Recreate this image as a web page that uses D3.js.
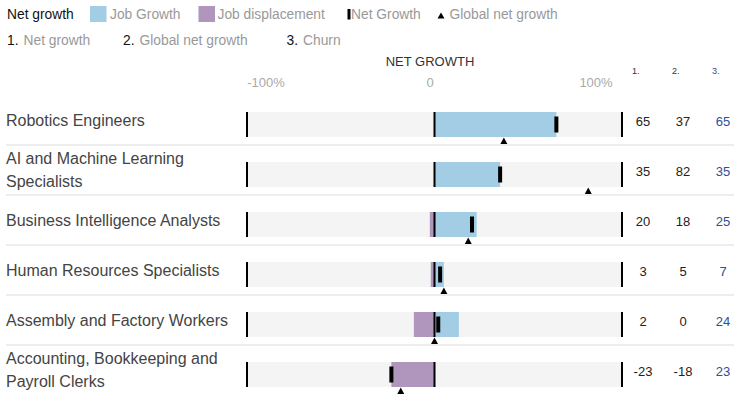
<!DOCTYPE html>
<html>
<head>
<meta charset="utf-8">
<script src="https://cdn.jsdelivr.net/npm/d3@7"></script>
<style>
  html, body { margin: 0; padding: 0; background: #fff; }
  svg { display: block; font-family: "Liberation Sans", Arial, Helvetica, sans-serif; }
</style>
</head>
<body>
<svg id="chart" width="734" height="394"></svg>
<script>
// Occupations (row labels, split over lines where they wrap)
const occupations = [
  ["Robotics Engineers"],
  ["AI and Machine Learning", "Specialists"],
  ["Business Intelligence Analysts"],
  ["Human Resources Specialists"],
  ["Assembly and Factory Workers"],
  ["Accounting, Bookkeeping and", "Payroll Clerks"]
];
// Percent values per occupation
const jobGrowth       = [65, 35, 22.5, 5, 13, 0];
const jobDisplacement = [0, 0, -2.5, -2, -11, -23];
const netGrowth       = [65, 35, 20, 3, 2, -23];
const globalNetGrowth = [37, 82, 18, 5, 0, -18];
const churn           = [65, 35, 25, 7, 24, 23];
const axisTicks       = [-100, 0, 100];
const axisTickLabels  = ["-100%", "0", "100%"];

const COL_BLUE = "#a2cde5";
const COL_PURPLE = "#b095bd";
const COL_TRACK = "#f4f4f4";
const COL_GREY = "#999";
const COL_CHURN = "#2d4e9c";

const svg = d3.select("#chart");
const keys = occupations.map((d, i) => i);

const x = d3.scaleLinear().domain([-100, 100]).range([247, 622]);
const y = d3.scaleBand().domain(keys).range([112, 387]).paddingInner(0.5);
const bh = y.bandwidth();

// ---- legend ----
const legend = svg.append("g").attr("font-size", 13.8);
legend.append("text").attr("x", 7).attr("y", 19).attr("fill", "#111").text("Net growth");
legend.append("rect").attr("x", 90).attr("y", 6).attr("width", 16.5).attr("height", 16).attr("fill", COL_BLUE);
legend.append("text").attr("x", 110).attr("y", 19).attr("fill", COL_GREY).text("Job Growth");
legend.append("rect").attr("x", 198.5).attr("y", 6).attr("width", 16.5).attr("height", 16).attr("fill", COL_PURPLE);
legend.append("text").attr("x", 217.5).attr("y", 19).attr("fill", COL_GREY).text("Job displacement");
legend.append("rect").attr("x", 347.5).attr("y", 9).attr("width", 3).attr("height", 10.5).attr("fill", "#000");
legend.append("text").attr("x", 351).attr("y", 19).attr("fill", COL_GREY).text("Net Growth");
legend.append("path").attr("d", "M441,12.5L444.5,18.5L437.5,18.5Z").attr("fill", "#000");
legend.append("text").attr("x", 449.5).attr("y", 19).attr("fill", COL_GREY).text("Global net growth");

const key2 = [
  { n: "1.", t: "Net growth", x: 7 },
  { n: "2.", t: "Global net growth", x: 123 },
  { n: "3.", t: "Churn", x: 286.5 }
];
key2.forEach(k => {
  legend.append("text").attr("x", k.x).attr("y", 45).attr("fill", "#111").text(k.n);
  legend.append("text").attr("x", k.x + 16.5).attr("y", 45).attr("fill", COL_GREY).text(k.t);
});

// ---- axis header ----
svg.append("text").attr("x", 430).attr("y", 66).attr("text-anchor", "middle")
  .attr("font-size", 13).attr("fill", "#333").text("NET GROWTH");

const tickPos = [266, 430, 596];
svg.append("g").selectAll("text").data(axisTicks).join("text")
  .attr("x", (d, i) => tickPos[i])
  .attr("y", 87)
  .attr("text-anchor", "middle")
  .attr("font-size", 13)
  .attr("fill", "#aaa")
  .text((d, i) => axisTickLabels[i]);

// column headers
const colX = [643, 683, 723];
const colHead = ["1.", "2.", "3."];
svg.append("g").selectAll("text").data(colHead).join("text")
  .attr("x", (d, i) => colX[i] - 11)
  .attr("y", 74)
  .attr("font-size", 9)
  .attr("fill", (d, i) => i === 2 ? COL_CHURN : "#333")
  .text(d => d);

// ---- rows ----
const rows = svg.append("g");

// separators
rows.selectAll("rect.sep").data(keys.slice(0, -1)).join("rect")
  .attr("class", "sep")
  .attr("x", 6).attr("width", 728)
  .attr("y", d => y(d) + bh + 7).attr("height", 2)
  .attr("fill", "#eeeeee");

// track
rows.selectAll("rect.track").data(keys).join("rect")
  .attr("class", "track")
  .attr("x", x(-100)).attr("width", x(100) - x(-100))
  .attr("y", d => y(d)).attr("height", bh)
  .attr("fill", COL_TRACK);

// job growth
rows.selectAll("rect.grow").data(keys).join("rect")
  .attr("class", "grow")
  .attr("x", x(0)).attr("width", d => x(jobGrowth[d]) - x(0))
  .attr("y", d => y(d)).attr("height", bh)
  .attr("fill", COL_BLUE);

// job displacement
rows.selectAll("rect.disp").data(keys).join("rect")
  .attr("class", "disp")
  .attr("x", d => x(jobDisplacement[d])).attr("width", d => x(0) - x(jobDisplacement[d]))
  .attr("y", d => y(d)).attr("height", bh)
  .attr("fill", COL_PURPLE);

// reference lines at -100, 0, 100
keys.forEach(k => {
  rows.selectAll(null).data(axisTicks).join("rect")
    .attr("x", d => x(d) - 1).attr("width", 2)
    .attr("y", y(k)).attr("height", bh)
    .attr("fill", "#000");
});

// net growth marker
rows.selectAll("rect.net").data(keys).join("rect")
  .attr("class", "net")
  .attr("x", d => x(netGrowth[d]) - 2).attr("width", 4)
  .attr("y", d => y(d) + bh / 2 - 8).attr("height", 16)
  .attr("fill", "#000");

// global net growth triangle
rows.selectAll("path.glob").data(keys).join("path")
  .attr("class", "glob")
  .attr("d", d => {
    const cx = x(globalNetGrowth[d]);
    const top = y(d) + bh + 0.5;
    return `M${cx},${top}L${cx + 3.5},${top + 6.5}L${cx - 3.5},${top + 6.5}Z`;
  })
  .attr("fill", "#000");

// row labels
const labels = rows.selectAll("text.lab").data(keys).join("text")
  .attr("class", "lab")
  .attr("font-size", 16)
  .attr("fill", "#444");
labels.each(function(d) {
  const lines = occupations[d];
  const c = y(d) + bh / 2;
  const t = d3.select(this);
  if (lines.length === 1) {
    t.append("tspan").attr("x", 6).attr("y", c + 1.5).text(lines[0]);
  } else {
    t.append("tspan").attr("x", 6).attr("y", c - 10.5).text(lines[0]);
    t.append("tspan").attr("x", 6).attr("y", c + 12.5).text(lines[1]);
  }
});

// value columns
const cols = [netGrowth, globalNetGrowth, churn];
cols.forEach((arr, ci) => {
  rows.selectAll(null).data(keys).join("text")
    .attr("x", colX[ci])
    .attr("y", d => y(d) + bh / 2 + 1.5)
    .attr("text-anchor", "middle")
    .attr("font-size", 13)
    .attr("fill", ci === 2 ? COL_CHURN : "#222")
    .text(d => arr[d]);
});
</script>
</body>
</html>
